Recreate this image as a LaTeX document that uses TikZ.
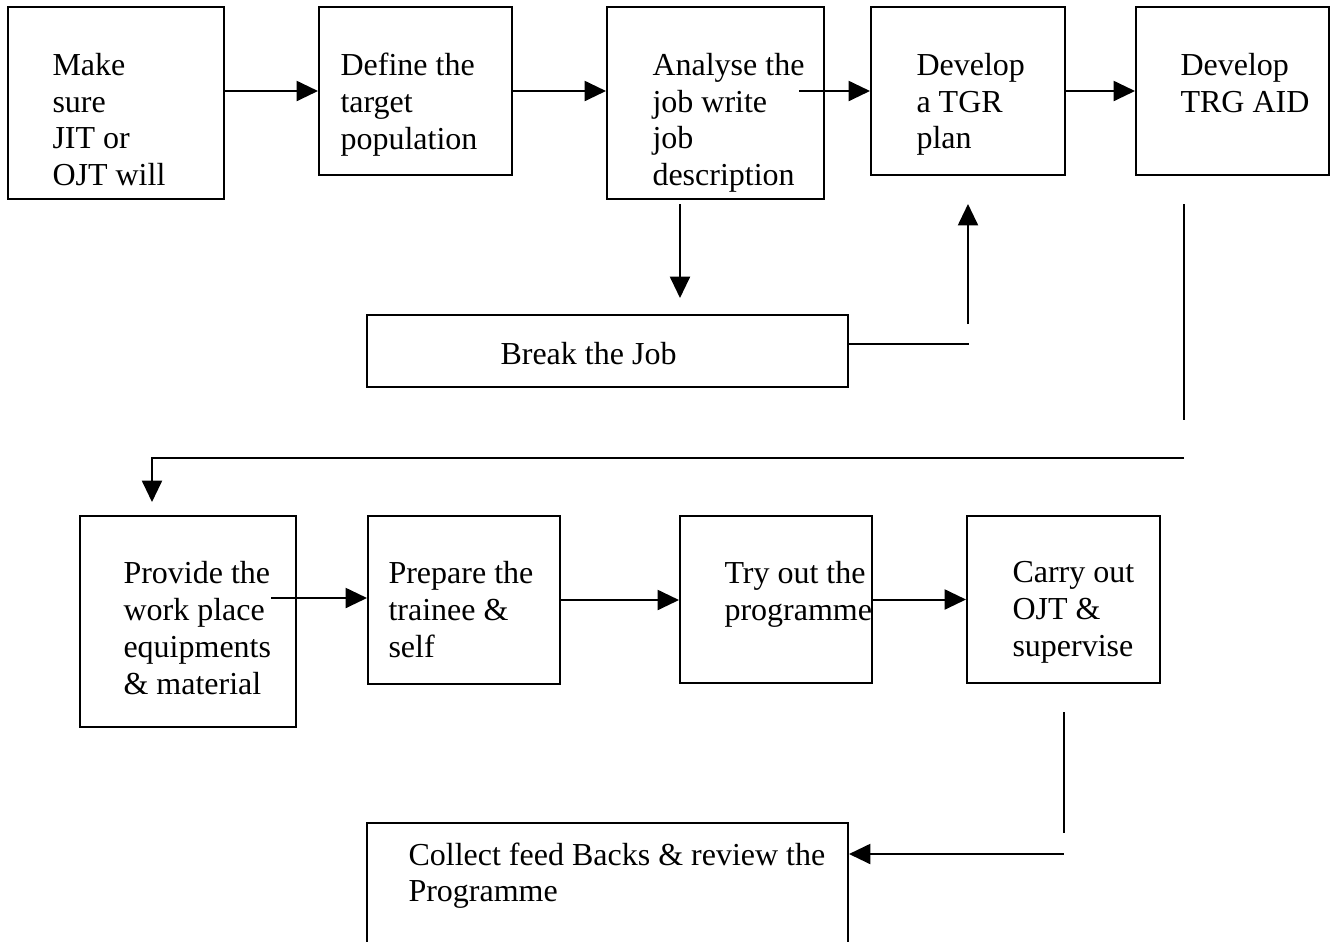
\documentclass[tikz,border=0pt]{standalone}
\usepackage{fontspec}
\setmainfont{Liberation Serif}
\usetikzlibrary{arrows.meta,fit,calc}

\tikzset{
	box/.style={draw, line width=0.75pt, inner sep=0pt},
	txt/.style={align=left, inner sep=0pt, anchor=north west, font=\fontsize{12}{13.8}\selectfont, execute at begin node=\strut},
	arr/.style={line width=0.75pt, -{Triangle[length=8pt,width=7.5pt]}},
	ln/.style={line width=0.75pt}
}

\begin{document}
\begin{tikzpicture}[x=0.375pt, y=-0.375pt]
		\useasboundingbox (0,0) rectangle (1330,941);
		\clip (0,0) rectangle (1330,941);

		% Draw boxes
		\node[box, fit={(8,7) (224,199)}] (make) {};
		\node[box, fit={(319,7) (512,175)}] (define) {};
		\node[box, fit={(607,7) (824,199)}] (analyse) {};
		\node[box, fit={(871,7) (1065,175)}] (tgr) {};
		\node[box, fit={(1136,7) (1329,175)}] (aid) {};
		\node[box, fit={(367,315) (848,387)}] (brk) {};
		\node[box, fit={(80,516) (296,727)}] (provide) {};
		\node[box, fit={(368,516) (560,684)}] (prepare) {};
		\node[box, fit={(680,516) (872,683)}] (tryout) {};
		\node[box, fit={(967,516) (1160,683)}] (carry) {};
		\node[box, fit={(367,823) (848,990)}] (collect) {};

		% Draw texts
		\node[txt] (make-t) at (52,52.5) {Make\\sure\\JIT or\\OJT will};
		\node[txt] (define-t) at (340,52.5) {Define the\\target\\population};
		\node[txt] (analyse-t) at (652,52.5) {Analyse the\\job write\\job\\description};
		\node[txt] (tgr-t) at (916,52.5) {Develop\\a TGR\\plan};
		\node[txt] (aid-t) at (1180,52.5) {Develop\\TRG AID};
		\node[txt] (brk-t) at (500,338.5) {Break the Job};
		\node[txt] (provide-t) at (123,561) {Provide the\\work place\\equipments\\\& material};
		\node[txt] (prepare-t) at (388,561) {Prepare the\\trainee \&\\self};
		\node[txt] (tryout-t) at (724,561) {Try out the\\programme};
		\node[txt] (carry-t) at (1012,561) {Carry out\\OJT \&\\supervise};
		\node[txt] (collect-t) at (408,842) {Collect feed Backs \& review the\\Programme};

		% Draw arrows, top row
		\draw[arr] (make.east |- define.west) -- (define.west);
		\draw[arr] (define.east) -- (define.east -| analyse.west);
		\draw[arr] (tgr.west) ++(-71,0) -- (tgr.west);
		\draw[arr] (tgr.east) -- (tgr.east -| aid.west);
		\draw[arr] (analyse.south) ++(-35.5,4) -- ++(0,94);
		\draw[ln] (brk.east) ++(0,-7) -- ++(120,0);
		\draw[arr] (tgr.south) ++(0,148) -- ++(0,-120);

		% Draw link to second row
		\draw[ln] (aid.south) ++(-48.5,28) -- ++(0,216);
		\draw[arr] (aid.south) ++(-48.5,282) -| ($(provide.north)+(-36,-13)$);

		% Draw arrows, bottom row
		\draw[arr] (prepare.west) ++(-96,-2) -- ++(96,0);
		\draw[arr] (prepare.east) -- (prepare.east -| tryout.west);
		\draw[arr] (tryout.east) -- (tryout.east -| carry.west);
		\draw[ln] (carry.south) ++(0,28) -- ++(0,121);
		\draw[arr] (carry.south) ++(0,170) coordinate (fb) -- (fb -| collect.east);
	\end{tikzpicture}
\end{document}
